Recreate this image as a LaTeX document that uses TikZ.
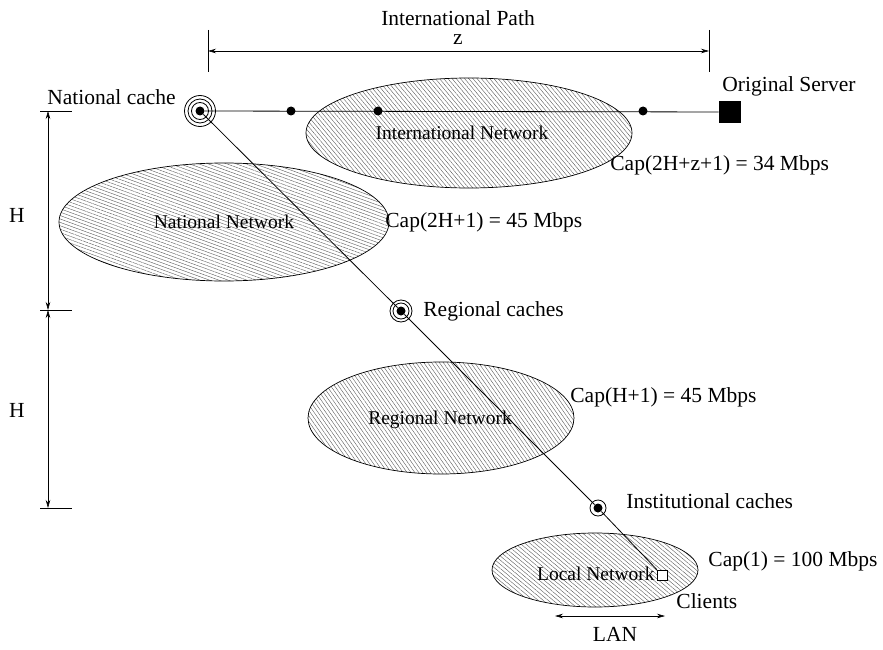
\documentclass[tikz,border=0pt]{standalone}
\usepackage{fontspec}
\setmainfont{Liberation Serif}
\usetikzlibrary{arrows.meta,patterns.meta,positioning}
\tikzset{
  net/.style={draw=black, line width=0.7pt,
    pattern={Lines[angle=#1,distance=3.2pt,line width=0.4pt]}, pattern color=black!65},
  dot/.style={circle, fill=black, inner sep=0pt, minimum size=9pt},
  lbl/.style={inner sep=0pt, anchor=west},
  netlbl/.style={inner sep=0pt, font=\fontsize{19.5}{21}\selectfont},
  dim/.style={line width=0.6pt, {Stealth[length=8pt,width=4.5pt]}-{Stealth[length=8pt,width=4.5pt]}},
}

\begin{document}
\begin{tikzpicture}[x=1pt, y=-1pt, font=\fontsize{21.5}{23}\selectfont, line width=0.8pt]
\useasboundingbox (0,0) rectangle (883,650);

% networks
\draw[net=-50] (469,133) ellipse (163pt and 55pt);
\draw[net=-20] (224,222) ellipse (165pt and 59pt);
\draw[net=-55] (441,418) ellipse (133pt and 56pt);
\draw[net=-40] (595,570) ellipse (103pt and 37pt);
\node[netlbl] (intlnet) at (462,133) {International Network};
\node[netlbl] (natnet) at (224,222) {National Network};
\node[netlbl] (regnet) at (440,420) {Regional Network};
\node[netlbl, anchor=east] (locnet) at (655,574) {Local Network};

% caches, routers, server, clients
\node[dot] (natc) at (200,111) {};
\draw (natc) circle (8.5pt) circle (12pt) circle (15.5pt);
\node[dot] (r1) at (291,111) {};
\node[dot] (r2) at (378,111) {};
\node[dot] (r3) at (643,111) {};
\node[fill=black, inner sep=0pt, minimum size=22pt] (srv) at (730,112) {};
\node[dot] (regc) at (401,311) {};
\draw (regc) circle (8pt) circle (11pt);
\node[dot] (instc) at (598,508) {};
\draw (instc) circle (8pt);
\node[draw, line width=0.6pt, fill=white, inner sep=0pt, minimum size=10pt] (cli) at (662,575) {};

\draw (natc) -- (srv);
\draw (natc) -- (regc) -- (instc) -- (cli);

% labels
\node[lbl] (natclbl) at (47,97) {National cache};
\node[lbl] (srvlbl) at (722,86) {Original Server};
\node[lbl] (regclbl) at (423,311) {Regional caches};
\node[lbl] (instclbl) at (626,501) {Institutional caches};
\node[lbl] (clilbl) at (676,601) {Clients};
\node[lbl] (cap1) at (610,165) {Cap(2H+z+1) = 34 Mbps};
\node[lbl] (cap2) at (385,222) {Cap(2H+1) = 45 Mbps};
\node[lbl] (cap3) at (570,397) {Cap(H+1) = 45 Mbps};
\node[lbl] (cap4) at (708,561) {Cap(1) = 100 Mbps};

% international path
\node (pathlbl) at (458,18) {International Path};
\node (zlbl) at (458,40) {z};
\coordinate (pa) at (208,51);
\coordinate (pb) at (709,51);
\draw[line width=0.6pt] (208,30) -- (208,72) (709,30) -- (709,72);
\draw[dim] (pa) -- (pb);

% heights
\coordinate (h0) at (48,111);
\coordinate (h1) at (48,310);
\coordinate (h2) at (48,508);
\draw[line width=0.6pt] (40,111) -- (72,111) (40,310) -- (72,310) (40,508) -- (72,508);
\draw[dim] (h0) -- (h1);
\draw[dim] (h1) -- (h2);
\node (hup) at (17,215) {H};
\node (hlo) at (17,410) {H};

% LAN
\coordinate (la) at (555,616);
\coordinate (lb) at (665,616);
\draw[dim] (la) -- (lb);
\node (lanlbl) at (615,634) {LAN};
\end{tikzpicture}
\end{document}
